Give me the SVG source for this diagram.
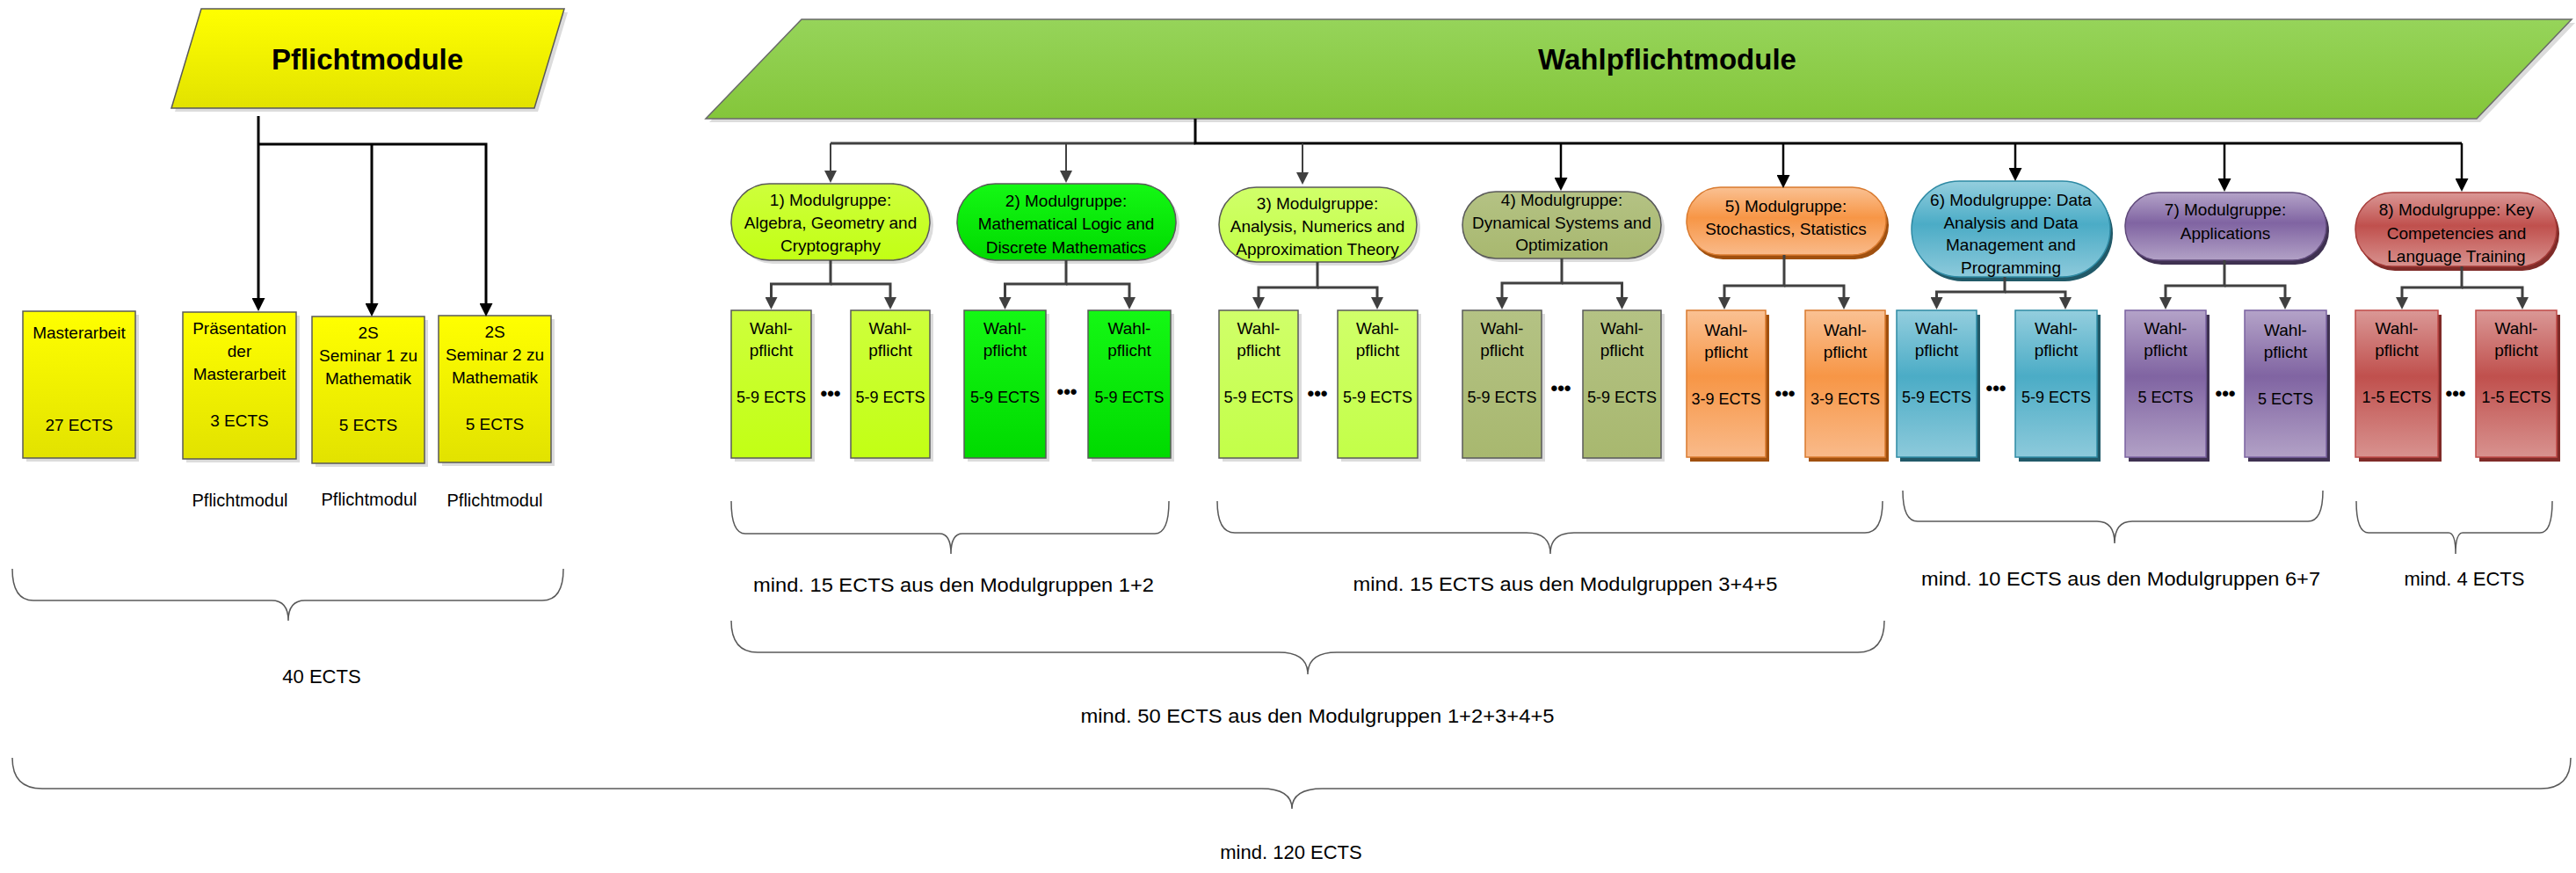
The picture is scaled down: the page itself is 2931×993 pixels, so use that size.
<svg xmlns="http://www.w3.org/2000/svg" width="2931" height="993" viewBox="0 0 2931 993">
<style>
  text { font-family: "Liberation Sans", Arial, sans-serif; fill: #000; }
  .st { font-size: 19px; text-anchor: middle; }
  .bx { font-size: 19px; text-anchor: middle; }
  .bxe { font-size: 18px; text-anchor: middle; }
  .pm { font-size: 19px; text-anchor: middle; }
  .lbl { font-size: 22px; text-anchor: middle; }
  .dots { font-size: 22px; font-weight: bold; text-anchor: middle; }
  .title { font-size: 33px; font-weight: bold; text-anchor: middle; }
  .cg { stroke: #404040; stroke-width: 3; fill: none; }
  .cg2 { stroke: #404040; stroke-width: 2; fill: none; }
  .cb { stroke: #000; stroke-width: 3; fill: none; }
  .cb2 { stroke: #000; stroke-width: 2.5; fill: none; }
  .brace { stroke: #595959; stroke-width: 1.5; fill: none; }
  .sh { fill: #dcdcdc; }
  .ln { stroke: #595959; stroke-width: 1.5; }
  .ag { marker-end: url(#arrG); }
  .ab { marker-end: url(#arrB); }
</style>
<defs>
  <marker id="arrG" viewBox="0 0 10 10" refX="0" refY="5" markerWidth="14" markerHeight="14" markerUnits="userSpaceOnUse" orient="auto">
    <path d="M0,0 L10,5 L0,10 z" fill="#404040"/>
  </marker>
  <marker id="arrB" viewBox="0 0 10 10" refX="0" refY="5" markerWidth="15" markerHeight="15" markerUnits="userSpaceOnUse" orient="auto">
    <path d="M0,0 L10,5 L0,10 z" fill="#000"/>
  </marker>
  <linearGradient id="gYel" x1="0" y1="0" x2="0" y2="1">
    <stop offset="0" stop-color="#FFFF00"/><stop offset="1" stop-color="#E2E200"/>
  </linearGradient>
  <linearGradient id="gBan" x1="0" y1="0" x2="0" y2="1">
    <stop offset="0" stop-color="#96D45A"/><stop offset="1" stop-color="#84C63A"/>
  </linearGradient>
  <linearGradient id="g1" x1="0" y1="0" x2="0" y2="1">
    <stop offset="0" stop-color="#CEFF3C"/><stop offset="1" stop-color="#C2FF14"/>
  </linearGradient>
  <linearGradient id="g2" x1="0" y1="0" x2="0" y2="1">
    <stop offset="0" stop-color="#14F814"/><stop offset="1" stop-color="#00DA00"/>
  </linearGradient>
  <linearGradient id="g3" x1="0" y1="0" x2="0" y2="1">
    <stop offset="0" stop-color="#D0FF6A"/><stop offset="1" stop-color="#C3FF48"/>
  </linearGradient>
  <linearGradient id="g4" x1="0" y1="0" x2="0" y2="1">
    <stop offset="0" stop-color="#B4C284"/><stop offset="1" stop-color="#A8B86F"/>
  </linearGradient>
  <linearGradient id="g5" x1="0" y1="0" x2="0" y2="1">
    <stop offset="0" stop-color="#FAC193"/><stop offset="0.45" stop-color="#F79646"/><stop offset="1" stop-color="#F9BA8A"/>
  </linearGradient>
  <linearGradient id="g6" x1="0" y1="0" x2="0" y2="1">
    <stop offset="0" stop-color="#94CEDE"/><stop offset="0.45" stop-color="#4BACC6"/><stop offset="1" stop-color="#8DCADB"/>
  </linearGradient>
  <linearGradient id="g7" x1="0" y1="0" x2="0" y2="1">
    <stop offset="0" stop-color="#B4A3C8"/><stop offset="0.45" stop-color="#8064A2"/><stop offset="1" stop-color="#B2A1C6"/>
  </linearGradient>
  <linearGradient id="g8" x1="0" y1="0" x2="0" y2="1">
    <stop offset="0" stop-color="#DA9896"/><stop offset="0.45" stop-color="#C0504D"/><stop offset="1" stop-color="#D8928F"/>
  </linearGradient>
</defs>

<rect x="0" y="0" width="2931" height="993" fill="#fff"/>

<!-- Header nodes -->
<g id="pflichtmodule">
  <polygon points="233,14 646,14 612,127 199,127" class="sh"/>
  <polygon points="229,10 642,10 608,123 195,123" fill="url(#gYel)" stroke="#595959" stroke-width="1.5"/>
  <text class="title" x="418" y="79">Pflichtmodule</text>
</g>
<g id="wahlpflichtmodule">
  <polygon points="916,26 2930,26 2822,139 807,139" class="sh"/>
  <polygon points="912,22 2926,22 2818,135 803,135" fill="url(#gBan)" stroke="#6a6a6a" stroke-width="1.5"/>
  <text class="title" x="1897" y="79">Wahlpflichtmodule</text>
</g>

<!-- Pflicht boxes -->
<g id="masterarbeit">
  <rect x="30" y="358" width="128" height="167" class="sh"/>
  <rect x="26" y="354" width="128" height="167" fill="url(#gYel)" stroke="#595959" stroke-width="1.5"/>
  <text class="pm" x="90" y="385">Masterarbeit</text>
  <text class="pm" x="90" y="490">27 ECTS</text>
</g>
<g id="praesentation">
  <rect x="212" y="359" width="129" height="167" class="sh"/>
  <rect x="208" y="355" width="129" height="167" fill="url(#gYel)" stroke="#595959" stroke-width="1.5"/>
  <text class="pm" x="272.5" y="380">Präsentation</text>
  <text class="pm" x="272.5" y="406">der</text>
  <text class="pm" x="272.5" y="432">Masterarbeit</text>
  <text class="pm" x="272.5" y="485">3 ECTS</text>
</g>
<g id="seminar1">
  <rect x="359" y="364" width="128" height="167" class="sh"/>
  <rect x="355" y="360" width="128" height="167" fill="url(#gYel)" stroke="#595959" stroke-width="1.5"/>
  <text class="pm" x="419" y="385">2S</text>
  <text class="pm" x="419" y="411">Seminar 1 zu</text>
  <text class="pm" x="419" y="437">Mathematik</text>
  <text class="pm" x="419" y="490">5 ECTS</text>
</g>
<g id="seminar2">
  <rect x="503" y="363" width="128" height="167" class="sh"/>
  <rect x="499" y="359" width="128" height="167" fill="url(#gYel)" stroke="#595959" stroke-width="1.5"/>
  <text class="pm" x="563" y="384">2S</text>
  <text class="pm" x="563" y="410">Seminar 2 zu</text>
  <text class="pm" x="563" y="436">Mathematik</text>
  <text class="pm" x="563" y="489">5 ECTS</text>
</g>

<!-- Modulgruppen -->
<g id="gruppe1">
  <rect x="836" y="213" width="226" height="87" rx="43.5" class="sh"/>
  <rect x="832" y="209" width="226" height="87" rx="43.5" fill="url(#g1)" stroke="#595959" stroke-width="1.5"/>
  <text class="st" x="945" y="234">1) Modulgruppe:</text>
  <text class="st" x="945" y="260">Algebra, Geometry and</text>
  <text class="st" x="945" y="286">Cryptography</text>
</g>
<g id="gruppe2">
  <rect x="1093" y="213" width="249" height="87" rx="43.5" class="sh"/>
  <rect x="1089" y="209" width="249" height="87" rx="43.5" fill="url(#g2)" stroke="#595959" stroke-width="1.5"/>
  <text class="st" x="1213" y="235">2) Modulgruppe:</text>
  <text class="st" x="1213" y="261">Mathematical Logic and</text>
  <text class="st" x="1213" y="288">Discrete Mathematics</text>
</g>
<g id="gruppe3">
  <rect x="1391" y="217" width="225" height="85" rx="42.5" class="sh"/>
  <rect x="1387" y="213" width="225" height="85" rx="42.5" fill="url(#g3)" stroke="#595959" stroke-width="1.5"/>
  <text class="st" x="1499" y="238">3) Modulgruppe:</text>
  <text class="st" x="1499" y="264">Analysis, Numerics and</text>
  <text class="st" x="1499" y="290">Approximation Theory</text>
</g>
<g id="gruppe4">
  <rect x="1668" y="222" width="226" height="76" rx="38" class="sh"/>
  <rect x="1664" y="218" width="226" height="76" rx="38" fill="url(#g4)" stroke="#595959" stroke-width="1.5"/>
  <text class="st" x="1777" y="234">4) Modulgruppe:</text>
  <text class="st" x="1777" y="260">Dynamical Systems and</text>
  <text class="st" x="1777" y="285">Optimization</text>
</g>
<g id="gruppe5">
  <rect x="1922" y="218" width="227" height="77" rx="38.5" fill="#A0500F"/>
  <rect x="1919" y="213" width="227" height="77" rx="38.5" fill="url(#g5)" stroke="#D97A2E" stroke-width="1.5"/>
  <text class="st" x="2032" y="241">5) Modulgruppe:</text>
  <text class="st" x="2032" y="267">Stochastics, Statistics</text>
</g>
<g id="gruppe6">
  <rect x="2178" y="211" width="226" height="109" rx="54.5" fill="#215968"/>
  <rect x="2175" y="206" width="226" height="109" rx="54.5" fill="url(#g6)" stroke="#2E8AA4" stroke-width="1.5"/>
  <text class="st" x="2288" y="234">6) Modulgruppe: Data</text>
  <text class="st" x="2288" y="260">Analysis and Data</text>
  <text class="st" x="2288" y="285">Management and</text>
  <text class="st" x="2288" y="311">Programming</text>
</g>
<g id="gruppe7">
  <rect x="2421" y="224" width="229" height="77" rx="38.5" fill="#3F3151"/>
  <rect x="2418" y="219" width="229" height="77" rx="38.5" fill="url(#g7)" stroke="#5F497A" stroke-width="1.5"/>
  <text class="st" x="2532" y="245">7) Modulgruppe:</text>
  <text class="st" x="2532" y="272">Applications</text>
</g>
<g id="gruppe8">
  <rect x="2683" y="224" width="229" height="84" rx="42" fill="#7F2B28"/>
  <rect x="2680" y="219" width="229" height="84" rx="42" fill="url(#g8)" stroke="#A63C39" stroke-width="1.5"/>
  <text class="st" x="2795" y="245">8) Modulgruppe: Key</text>
  <text class="st" x="2795" y="272">Competencies and</text>
  <text class="st" x="2795" y="298">Language Training</text>
</g>

<!-- Wahlpflicht boxes -->
<g id="g1-wahl-a">
  <rect x="836" y="357" width="91" height="168" class="sh"/>
  <rect x="832" y="353" width="91" height="168" fill="url(#g1)" stroke="#595959" stroke-width="1.5"/>
  <text class="bx" x="877.5" y="380">Wahl-</text><text class="bx" x="877.5" y="405">pflicht</text><text class="bxe" x="877.5" y="458">5-9 ECTS</text>
</g>
<g id="g1-wahl-b">
  <rect x="972" y="357" width="90" height="168" class="sh"/>
  <rect x="968" y="353" width="90" height="168" fill="url(#g1)" stroke="#595959" stroke-width="1.5"/>
  <text class="bx" x="1013" y="380">Wahl-</text><text class="bx" x="1013" y="405">pflicht</text><text class="bxe" x="1013" y="458">5-9 ECTS</text>
</g>
<g id="g2-wahl-a">
  <rect x="1101" y="357" width="93" height="168" class="sh"/>
  <rect x="1097" y="353" width="93" height="168" fill="url(#g2)" stroke="#595959" stroke-width="1.5"/>
  <text class="bx" x="1143.5" y="380">Wahl-</text><text class="bx" x="1143.5" y="405">pflicht</text><text class="bxe" x="1143.5" y="458">5-9 ECTS</text>
</g>
<g id="g2-wahl-b">
  <rect x="1242" y="357" width="94" height="168" class="sh"/>
  <rect x="1238" y="353" width="94" height="168" fill="url(#g2)" stroke="#595959" stroke-width="1.5"/>
  <text class="bx" x="1285" y="380">Wahl-</text><text class="bx" x="1285" y="405">pflicht</text><text class="bxe" x="1285" y="458">5-9 ECTS</text>
</g>
<g id="g3-wahl-a">
  <rect x="1391" y="357" width="90" height="168" class="sh"/>
  <rect x="1387" y="353" width="90" height="168" fill="url(#g3)" stroke="#595959" stroke-width="1.5"/>
  <text class="bx" x="1432" y="380">Wahl-</text><text class="bx" x="1432" y="405">pflicht</text><text class="bxe" x="1432" y="458">5-9 ECTS</text>
</g>
<g id="g3-wahl-b">
  <rect x="1526" y="357" width="91" height="168" class="sh"/>
  <rect x="1522" y="353" width="91" height="168" fill="url(#g3)" stroke="#595959" stroke-width="1.5"/>
  <text class="bx" x="1567.5" y="380">Wahl-</text><text class="bx" x="1567.5" y="405">pflicht</text><text class="bxe" x="1567.5" y="458">5-9 ECTS</text>
</g>
<g id="g4-wahl-a">
  <rect x="1668" y="357" width="90" height="168" class="sh"/>
  <rect x="1664" y="353" width="90" height="168" fill="url(#g4)" stroke="#595959" stroke-width="1.5"/>
  <text class="bx" x="1709" y="380">Wahl-</text><text class="bx" x="1709" y="405">pflicht</text><text class="bxe" x="1709" y="458">5-9 ECTS</text>
</g>
<g id="g4-wahl-b">
  <rect x="1805" y="357" width="89" height="168" class="sh"/>
  <rect x="1801" y="353" width="89" height="168" fill="url(#g4)" stroke="#595959" stroke-width="1.5"/>
  <text class="bx" x="1845.5" y="380">Wahl-</text><text class="bx" x="1845.5" y="405">pflicht</text><text class="bxe" x="1845.5" y="458">5-9 ECTS</text>
</g>
<g id="g5-wahl-a">
  <rect x="1923" y="358" width="90" height="167" fill="#A0500F"/>
  <rect x="1919" y="353" width="90" height="167" fill="url(#g5)" stroke="#D97A2E" stroke-width="1.5"/>
  <text class="bx" x="1964" y="382">Wahl-</text><text class="bx" x="1964" y="407">pflicht</text><text class="bxe" x="1964" y="460">3-9 ECTS</text>
</g>
<g id="g5-wahl-b">
  <rect x="2058" y="358" width="91" height="167" fill="#A0500F"/>
  <rect x="2054" y="353" width="91" height="167" fill="url(#g5)" stroke="#D97A2E" stroke-width="1.5"/>
  <text class="bx" x="2099.5" y="382">Wahl-</text><text class="bx" x="2099.5" y="407">pflicht</text><text class="bxe" x="2099.5" y="460">3-9 ECTS</text>
</g>
<g id="g6-wahl-a">
  <rect x="2162" y="358" width="91" height="167" fill="#215968"/>
  <rect x="2158" y="353" width="91" height="167" fill="url(#g6)" stroke="#2E8AA4" stroke-width="1.5"/>
  <text class="bx" x="2203.5" y="380">Wahl-</text><text class="bx" x="2203.5" y="405">pflicht</text><text class="bxe" x="2203.5" y="458">5-9 ECTS</text>
</g>
<g id="g6-wahl-b">
  <rect x="2297" y="358" width="93" height="167" fill="#215968"/>
  <rect x="2293" y="353" width="93" height="167" fill="url(#g6)" stroke="#2E8AA4" stroke-width="1.5"/>
  <text class="bx" x="2339.5" y="380">Wahl-</text><text class="bx" x="2339.5" y="405">pflicht</text><text class="bxe" x="2339.5" y="458">5-9 ECTS</text>
</g>
<g id="g7-wahl-a">
  <rect x="2422" y="358" width="92" height="167" fill="#3F3151"/>
  <rect x="2418" y="353" width="92" height="167" fill="url(#g7)" stroke="#7A62A0" stroke-width="1.5"/>
  <text class="bx" x="2464" y="380">Wahl-</text><text class="bx" x="2464" y="405">pflicht</text><text class="bxe" x="2464" y="458">5 ECTS</text>
</g>
<g id="g7-wahl-b">
  <rect x="2558" y="358" width="93" height="167" fill="#3F3151"/>
  <rect x="2554" y="353" width="93" height="167" fill="url(#g7)" stroke="#7A62A0" stroke-width="1.5"/>
  <text class="bx" x="2600.5" y="382">Wahl-</text><text class="bx" x="2600.5" y="407">pflicht</text><text class="bxe" x="2600.5" y="460">5 ECTS</text>
</g>
<g id="g8-wahl-a">
  <rect x="2684" y="358" width="94" height="167" fill="#7F2B28"/>
  <rect x="2680" y="353" width="94" height="167" fill="url(#g8)" stroke="#C04A47" stroke-width="1.5"/>
  <text class="bx" x="2727" y="380">Wahl-</text><text class="bx" x="2727" y="405">pflicht</text><text class="bxe" x="2727" y="458">1-5 ECTS</text>
</g>
<g id="g8-wahl-b">
  <rect x="2821" y="358" width="92" height="167" fill="#7F2B28"/>
  <rect x="2817" y="353" width="92" height="167" fill="url(#g8)" stroke="#C04A47" stroke-width="1.5"/>
  <text class="bx" x="2863" y="380">Wahl-</text><text class="bx" x="2863" y="405">pflicht</text><text class="bxe" x="2863" y="458">1-5 ECTS</text>
</g>

<!-- Connectors -->
<g id="connectors">
  <path class="cb" d="M294,132 V339" marker-end="url(#arrB)"/>
  <path class="cb" d="M294,164 H553 V345" marker-end="url(#arrB)"/>
  <path class="cb" d="M423,164 V345" marker-end="url(#arrB)"/>

  <path class="cg" d="M1360,163 H945"/>
  <path class="cb" d="M1360,135 V163 H2801"/>
  <path class="cg2" d="M945,163 V194" marker-end="url(#arrG)"/>
  <path class="cg2" d="M1213,163 V194" marker-end="url(#arrG)"/>
  <path class="cg2" d="M1482,163 V196" marker-end="url(#arrG)"/>
  <path class="cb2" d="M1776,163 V202" marker-end="url(#arrB)"/>
  <path class="cb2" d="M2029,163 V199" marker-end="url(#arrB)"/>
  <path class="cb2" d="M2293,163 V191" marker-end="url(#arrB)"/>
  <path class="cb2" d="M2531,163 V203" marker-end="url(#arrB)"/>
  <path class="cb2" d="M2801,163 V203" marker-end="url(#arrB)"/>

  <path class="cg" d="M945,296 V323 H877.5 V338" marker-end="url(#arrG)"/>
  <path class="cg" d="M945,323 H1013 V338" marker-end="url(#arrG)"/>
  <path class="cg" d="M1213,296 V323 H1143.5 V338" marker-end="url(#arrG)"/>
  <path class="cg" d="M1213,323 H1285 V338" marker-end="url(#arrG)"/>
  <path class="cg" d="M1499,298 V327 H1432 V338" marker-end="url(#arrG)"/>
  <path class="cg" d="M1499,327 H1567 V338" marker-end="url(#arrG)"/>
  <path class="cg" d="M1777,294 V322 H1709 V338" marker-end="url(#arrG)"/>
  <path class="cg" d="M1777,322 H1845.5 V338" marker-end="url(#arrG)"/>
  <path class="cg" d="M2030,290 V325 H1962 V338" marker-end="url(#arrG)"/>
  <path class="cg" d="M2030,325 H2098 V338" marker-end="url(#arrG)"/>
  <path class="cg" d="M2281,315 V332 H2203.5 V338" marker-end="url(#arrG)"/>
  <path class="cg" d="M2281,332 H2350 V338" marker-end="url(#arrG)"/>
  <path class="cg" d="M2531,296 V325 H2464 V338" marker-end="url(#arrG)"/>
  <path class="cg" d="M2531,325 H2600 V338" marker-end="url(#arrG)"/>
  <path class="cg" d="M2801,303 V327 H2733 V338" marker-end="url(#arrG)"/>
  <path class="cg" d="M2801,327 H2870 V338" marker-end="url(#arrG)"/>
</g>

<!-- Ellipsis dots and labels -->
<g id="labels">
  <text class="dots" x="945" y="455">•••</text>
  <text class="dots" x="1214" y="453">•••</text>
  <text class="dots" x="1499" y="455">•••</text>
  <text class="dots" x="1776" y="449">•••</text>
  <text class="dots" x="2031" y="455">•••</text>
  <text class="dots" x="2271" y="449">•••</text>
  <text class="dots" x="2532" y="455">•••</text>
  <text class="dots" x="2794" y="455">•••</text>

  <text class="pm" x="273" y="576" style="font-size:20px">Pflichtmodul</text>
  <text class="pm" x="420" y="575" style="font-size:20px">Pflichtmodul</text>
  <text class="pm" x="563" y="576" style="font-size:20px">Pflichtmodul</text>

  <text class="lbl" x="366" y="777">40 ECTS</text>
  <text class="lbl" x="1085" y="673" textLength="456" lengthAdjust="spacingAndGlyphs">mind. 15 ECTS aus den Modulgruppen 1+2</text>
  <text class="lbl" x="1781" y="672" textLength="483" lengthAdjust="spacingAndGlyphs">mind. 15 ECTS aus den Modulgruppen 3+4+5</text>
  <text class="lbl" x="2413" y="666" textLength="454" lengthAdjust="spacingAndGlyphs">mind. 10 ECTS aus den Modulgruppen 6+7</text>
  <text class="lbl" x="2804" y="666">mind. 4 ECTS</text>
  <text class="lbl" x="1499" y="822" textLength="539" lengthAdjust="spacingAndGlyphs">mind. 50 ECTS aus den Modulgruppen 1+2+3+4+5</text>
  <text class="lbl" x="1469" y="977">mind. 120 ECTS</text>
</g>

<!-- Braces -->
<g id="braces">
  <path class="brace" d="M14,647 Q14,683 38,683 L309,683 Q328,683 328,706 Q328,683 347,683 L617,683 Q641,683 641,647"/>
  <path class="brace" d="M832,570 Q832,607 848,607 L1069,607 Q1082,607 1082,630 Q1082,607 1095,607 L1314,607 Q1330,607 1330,570"/>
  <path class="brace" d="M1385,570 Q1385,606 1405,606 L1737,606 Q1764,606 1764,630 Q1764,606 1791,606 L2122,606 Q2142,606 2142,570"/>
  <path class="brace" d="M2165,558 Q2165,593 2182,593 L2386,593 Q2406,593 2406,618 Q2406,593 2426,593 L2626,593 Q2643,593 2643,558"/>
  <path class="brace" d="M2681,570 Q2681,606 2695,606 L2786,606 Q2794,606 2794,630 Q2794,606 2802,606 L2890,606 Q2904,606 2904,570"/>
  <path class="brace" d="M832,706 Q832,742 862,742 L1455,742 Q1488,742 1488,767 Q1488,742 1521,742 L2114,742 Q2144,742 2144,706"/>
  <path class="brace" d="M14,862 Q14,897 48,897 L1435,897 Q1470,897 1470,920 Q1470,897 1505,897 L2891,897 Q2925,897 2925,862"/>
</g>
</svg>
